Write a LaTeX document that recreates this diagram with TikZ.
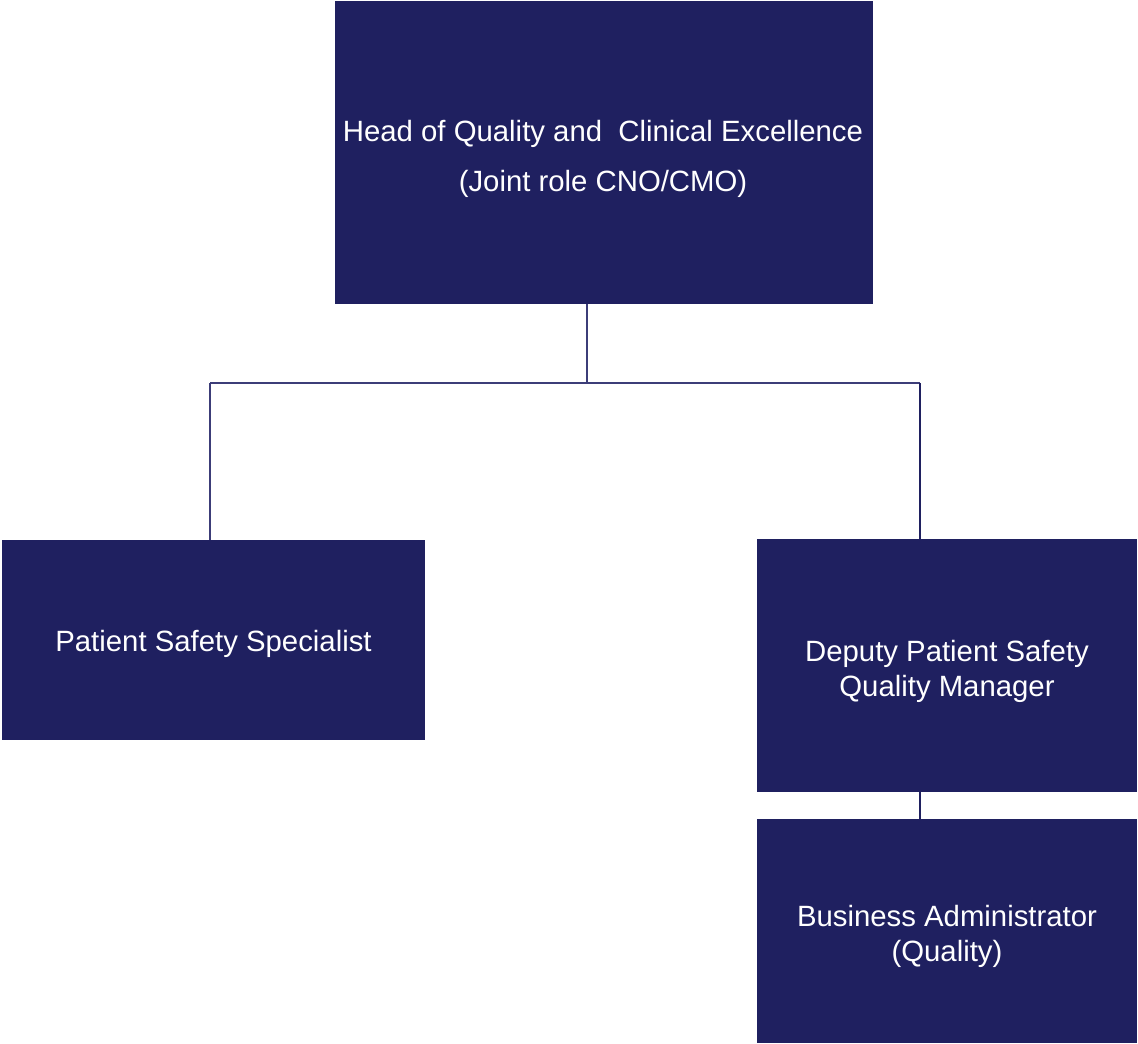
\documentclass[tikz,border=0pt]{standalone}
\usepackage{fontspec}
\setmainfont{Liberation Sans}
\definecolor{navy}{HTML}{1F2060}
\definecolor{linkc}{HTML}{3C3D78}
\begin{document}
\begin{tikzpicture}[x=0.75pt,y=-0.75pt,
  box/.style={fill=navy, draw=none, text=white, inner sep=0pt, align=center,
    font=\fontsize{22}{26.25}\selectfont},
  lbl/.style={text=white, inner sep=0pt, align=center,
    font=\fontsize{22}{26.25}\selectfont},
  link/.style={draw=linkc, line width=1pt},
  linkb/.style={draw=navy, line width=1.5pt}]
\useasboundingbox (0,0) rectangle (1138,1044);
\node[box, minimum width=403.5pt, minimum height=227.25pt] (top) at (604,152.5) {};
\node[lbl] (topt) at (603,159)
  {Head of Quality and~ Clinical Excellence\\[11.25pt](Joint role CNO/CMO)};
\node[box, minimum width=317.25pt, minimum height=150pt] (left) at (213.5,640) {};
\node[lbl] (leftt) at (213.5,644) {Patient Safety Specialist};
\node[box, minimum width=285pt, minimum height=189.75pt] (r1) at (947,665.5) {};
\node[lbl] (r1t) at (947,671.5) {Deputy Patient Safety\\Quality Manager};
\node[box, minimum width=285pt, minimum height=168pt] (r2) at (947,931) {};
\node[lbl] (r2t) at (947,936.5) {Business Administrator\\(Quality)};
\coordinate (j) at (587,383);
\coordinate (lj) at (210,383);
\coordinate (rj) at (920,383);
\draw[link] (top.south -| j) -- (j);
\draw[link] (lj) -- (rj);
\draw[link] (lj) -- (lj |- left.north);
\draw[linkb] (rj) -- (rj |- r1.north);
\draw[linkb] (r1.south -| rj) -- (r2.north -| rj);
\end{tikzpicture}
\end{document}
